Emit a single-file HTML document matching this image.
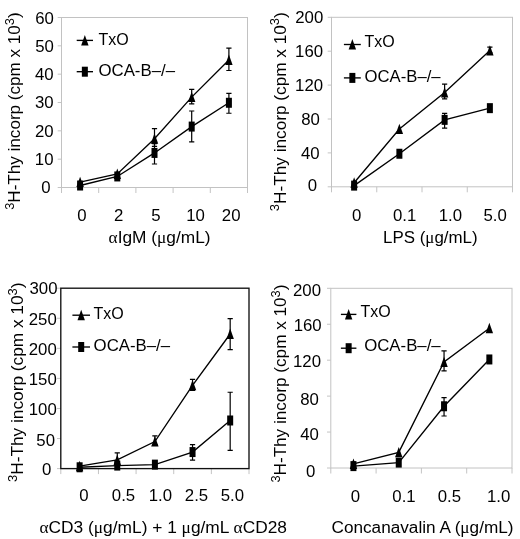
<!DOCTYPE html>
<html><head><meta charset="utf-8"><style>
html,body{margin:0;padding:0;background:#fff;}
svg{display:block;font-family:'Liberation Sans', sans-serif;font-size:16px;will-change:transform;}
</style></head><body>
<svg width="520" height="539" viewBox="0 0 520 539">
<rect width="520" height="539" fill="#fff"/>
<line x1="57.7" y1="187.50" x2="61.5" y2="187.50" stroke="#c4c4c4" stroke-width="1"/>
<line x1="57.7" y1="159.17" x2="61.5" y2="159.17" stroke="#c4c4c4" stroke-width="1"/>
<line x1="57.7" y1="130.83" x2="61.5" y2="130.83" stroke="#c4c4c4" stroke-width="1"/>
<line x1="57.7" y1="102.50" x2="61.5" y2="102.50" stroke="#c4c4c4" stroke-width="1"/>
<line x1="57.7" y1="74.17" x2="61.5" y2="74.17" stroke="#c4c4c4" stroke-width="1"/>
<line x1="57.7" y1="45.83" x2="61.5" y2="45.83" stroke="#c4c4c4" stroke-width="1"/>
<line x1="57.7" y1="17.50" x2="61.5" y2="17.50" stroke="#c4c4c4" stroke-width="1"/>
<text transform="translate(53.80,23.60) scale(1.05,1)" text-anchor="end" >60</text>
<text transform="translate(53.90,52.30) scale(1.05,1)" text-anchor="end" >50</text>
<text transform="translate(53.70,80.30) scale(1.05,1)" text-anchor="end" >40</text>
<text transform="translate(53.60,108.35) scale(1.05,1)" text-anchor="end" >30</text>
<text transform="translate(53.60,136.95) scale(1.05,1)" text-anchor="end" >20</text>
<text transform="translate(53.50,165.05) scale(1.05,1)" text-anchor="end" >10</text>
<text transform="translate(50.70,193.25) scale(1.05,1)" text-anchor="end" >0</text>
<line x1="61.50" y1="187.5" x2="61.50" y2="193.0" stroke="#c4c4c4" stroke-width="1"/>
<line x1="98.70" y1="187.5" x2="98.70" y2="193.0" stroke="#c4c4c4" stroke-width="1"/>
<line x1="135.90" y1="187.5" x2="135.90" y2="193.0" stroke="#c4c4c4" stroke-width="1"/>
<line x1="173.10" y1="187.5" x2="173.10" y2="193.0" stroke="#c4c4c4" stroke-width="1"/>
<line x1="210.30" y1="187.5" x2="210.30" y2="193.0" stroke="#c4c4c4" stroke-width="1"/>
<line x1="247.50" y1="187.5" x2="247.50" y2="193.0" stroke="#c4c4c4" stroke-width="1"/>
<rect x="61.5" y="17.5" width="186.00" height="170.00" fill="none" stroke="#c2c2c2" stroke-width="1"/>
<text transform="translate(81.90,221.20) scale(1.05,1)" text-anchor="middle" >0</text>
<text transform="translate(118.70,221.20) scale(1.05,1)" text-anchor="middle" >2</text>
<text transform="translate(156.00,221.20) scale(1.05,1)" text-anchor="middle" >5</text>
<text transform="translate(195.50,221.20) scale(1.05,1)" text-anchor="middle" >10</text>
<text transform="translate(231.20,221.20) scale(1.05,1)" text-anchor="middle" >20</text>
<text x="108.60" y="242.90" text-anchor="start" textLength="102" lengthAdjust="spacingAndGlyphs"><tspan font-family="Liberation Serif">α</tspan>IgM (<tspan font-family="Liberation Serif">μ</tspan>g/mL)</text>
<text transform="translate(20.2,209.8) rotate(-90)" x="0" y="0" textLength="197.5" lengthAdjust="spacingAndGlyphs"><tspan font-size="12" dy="-6.5">3</tspan><tspan dy="6.5">H-Thy incorp (cpm x 10</tspan><tspan font-size="12" dy="-6.5">3</tspan><tspan dy="6.5">)</tspan></text>
<polyline points="80.10,182.12 117.30,173.90 154.50,138.77 191.70,97.12 228.90,60.00" fill="none" stroke="#000" stroke-width="1.35"/>
<path d="M154.50 146.42V128.57M151.90 146.42h5.2M151.90 128.57h5.2" stroke="#000" stroke-width="1.2" fill="none"/>
<path d="M191.70 103.92V89.47M189.10 103.92h5.2M189.10 89.47h5.2" stroke="#000" stroke-width="1.2" fill="none"/>
<path d="M228.90 70.48V48.10M226.30 70.48h5.2M226.30 48.10h5.2" stroke="#000" stroke-width="1.2" fill="none"/>
<path d="M80.10 176.72L83.80 187.12H76.40Z" fill="#000"/>
<path d="M117.30 168.50L121.00 178.90H113.60Z" fill="#000"/>
<path d="M154.50 133.37L158.20 143.77H150.80Z" fill="#000"/>
<path d="M191.70 91.72L195.40 102.12H188.00Z" fill="#000"/>
<path d="M228.90 54.60L232.60 65.00H225.20Z" fill="#000"/>
<polyline points="80.10,185.52 117.30,176.45 154.50,152.93 191.70,126.58 228.90,102.78" fill="none" stroke="#000" stroke-width="1.35"/>
<path d="M154.50 163.98V143.58M151.90 163.98h5.2M151.90 143.58h5.2" stroke="#000" stroke-width="1.2" fill="none"/>
<path d="M191.70 141.88V111.00M189.10 141.88h5.2M189.10 111.00h5.2" stroke="#000" stroke-width="1.2" fill="none"/>
<path d="M228.90 113.27V93.43M226.30 113.27h5.2M226.30 93.43h5.2" stroke="#000" stroke-width="1.2" fill="none"/>
<rect x="77.10" y="180.52" width="6.0" height="10.0" fill="#000"/>
<rect x="114.30" y="171.45" width="6.0" height="10.0" fill="#000"/>
<rect x="151.50" y="147.93" width="6.0" height="10.0" fill="#000"/>
<rect x="188.70" y="121.58" width="6.0" height="10.0" fill="#000"/>
<rect x="225.90" y="97.78" width="6.0" height="10.0" fill="#000"/>
<line x1="76.7" y1="40.4" x2="93" y2="40.4" stroke="#000" stroke-width="1.35"/>
<path d="M84.85 35.00L88.55 45.40H81.15Z" fill="#000"/>
<text x="98.50" y="44.60" text-anchor="start" >TxO</text>
<line x1="76.7" y1="71.7" x2="93" y2="71.7" stroke="#000" stroke-width="1.35"/>
<rect x="81.85" y="66.70" width="6.0" height="10.0" fill="#000"/>
<text x="98.50" y="76.00" text-anchor="start" textLength="76.5" lengthAdjust="spacingAndGlyphs">OCA-B–/–</text>
<line x1="327.7" y1="186.80" x2="331.5" y2="186.80" stroke="#c4c4c4" stroke-width="1"/>
<line x1="327.7" y1="152.90" x2="331.5" y2="152.90" stroke="#c4c4c4" stroke-width="1"/>
<line x1="327.7" y1="119.00" x2="331.5" y2="119.00" stroke="#c4c4c4" stroke-width="1"/>
<line x1="327.7" y1="85.10" x2="331.5" y2="85.10" stroke="#c4c4c4" stroke-width="1"/>
<line x1="327.7" y1="51.20" x2="331.5" y2="51.20" stroke="#c4c4c4" stroke-width="1"/>
<line x1="327.7" y1="17.30" x2="331.5" y2="17.30" stroke="#c4c4c4" stroke-width="1"/>
<text transform="translate(323.30,23.35) scale(1.05,1)" text-anchor="end" >200</text>
<text transform="translate(323.10,57.05) scale(1.05,1)" text-anchor="end" >160</text>
<text transform="translate(323.10,91.05) scale(1.05,1)" text-anchor="end" >120</text>
<text transform="translate(319.80,124.90) scale(1.05,1)" text-anchor="end" >80</text>
<text transform="translate(319.70,159.15) scale(1.05,1)" text-anchor="end" >40</text>
<text transform="translate(317.00,191.15) scale(1.05,1)" text-anchor="end" >0</text>
<line x1="331.50" y1="186.8" x2="331.50" y2="192.3" stroke="#c4c4c4" stroke-width="1"/>
<line x1="376.75" y1="186.8" x2="376.75" y2="192.3" stroke="#c4c4c4" stroke-width="1"/>
<line x1="422.00" y1="186.8" x2="422.00" y2="192.3" stroke="#c4c4c4" stroke-width="1"/>
<line x1="467.25" y1="186.8" x2="467.25" y2="192.3" stroke="#c4c4c4" stroke-width="1"/>
<line x1="512.50" y1="186.8" x2="512.50" y2="192.3" stroke="#c4c4c4" stroke-width="1"/>
<rect x="331.5" y="17.3" width="181.00" height="169.50" fill="none" stroke="#c2c2c2" stroke-width="1"/>
<text transform="translate(356.60,220.90) scale(1.05,1)" text-anchor="middle" >0</text>
<text transform="translate(404.60,220.90) scale(1.05,1)" text-anchor="middle" >0.1</text>
<text transform="translate(450.30,220.90) scale(1.05,1)" text-anchor="middle" >1.0</text>
<text transform="translate(495.20,220.90) scale(1.05,1)" text-anchor="middle" >5.0</text>
<text x="383.10" y="242.90" text-anchor="start" textLength="94.5" lengthAdjust="spacingAndGlyphs">LPS (<tspan font-family="Liberation Serif">μ</tspan>g/mL)</text>
<text transform="translate(285.8,211.2) rotate(-90)" x="0" y="0" textLength="199" lengthAdjust="spacingAndGlyphs"><tspan font-size="12" dy="-6.5">3</tspan><tspan dy="6.5">H-Thy incorp (cpm x 10</tspan><tspan font-size="12" dy="-6.5">3</tspan><tspan dy="6.5">)</tspan></text>
<polyline points="354.12,182.73 399.38,129.09 444.62,92.56 489.88,50.61" fill="none" stroke="#000" stroke-width="1.35"/>
<path d="M444.62 98.91V84.08M442.02 98.91h5.2M442.02 84.08h5.2" stroke="#000" stroke-width="1.2" fill="none"/>
<path d="M489.88 52.90V47.13M487.27 52.90h5.2M487.27 47.13h5.2" stroke="#000" stroke-width="1.2" fill="none"/>
<path d="M354.12 177.33L357.82 187.73H350.43Z" fill="#000"/>
<path d="M399.38 123.69L403.07 134.09H395.68Z" fill="#000"/>
<path d="M444.62 87.16L448.32 97.56H440.93Z" fill="#000"/>
<path d="M489.88 45.21L493.57 55.61H486.18Z" fill="#000"/>
<polyline points="354.12,185.61 399.38,153.75 444.62,119.85 489.88,108.15" fill="none" stroke="#000" stroke-width="1.35"/>
<path d="M444.62 128.07V113.32M442.02 128.07h5.2M442.02 113.32h5.2" stroke="#000" stroke-width="1.2" fill="none"/>
<rect x="351.12" y="180.61" width="6.0" height="10.0" fill="#000"/>
<rect x="396.38" y="148.75" width="6.0" height="10.0" fill="#000"/>
<rect x="441.62" y="114.85" width="6.0" height="10.0" fill="#000"/>
<rect x="486.88" y="103.15" width="6.0" height="10.0" fill="#000"/>
<line x1="343.9" y1="44.5" x2="360.8" y2="44.5" stroke="#000" stroke-width="1.35"/>
<path d="M352.35 39.10L356.05 49.50H348.65Z" fill="#000"/>
<text x="364.60" y="47.40" text-anchor="start" >TxO</text>
<line x1="343.9" y1="77.9" x2="360.8" y2="77.9" stroke="#000" stroke-width="1.35"/>
<rect x="349.35" y="72.90" width="6.0" height="10.0" fill="#000"/>
<text x="364.60" y="82.10" text-anchor="start" textLength="76" lengthAdjust="spacingAndGlyphs">OCA-B–/–</text>
<line x1="57.0" y1="468.60" x2="60.8" y2="468.60" stroke="#c4c4c4" stroke-width="1"/>
<line x1="57.0" y1="438.53" x2="60.8" y2="438.53" stroke="#c4c4c4" stroke-width="1"/>
<line x1="57.0" y1="408.47" x2="60.8" y2="408.47" stroke="#c4c4c4" stroke-width="1"/>
<line x1="57.0" y1="378.40" x2="60.8" y2="378.40" stroke="#c4c4c4" stroke-width="1"/>
<line x1="57.0" y1="348.33" x2="60.8" y2="348.33" stroke="#c4c4c4" stroke-width="1"/>
<line x1="57.0" y1="318.27" x2="60.8" y2="318.27" stroke="#c4c4c4" stroke-width="1"/>
<line x1="57.0" y1="288.20" x2="60.8" y2="288.20" stroke="#c4c4c4" stroke-width="1"/>
<text transform="translate(57.50,294.40) scale(1.05,1)" text-anchor="end" >300</text>
<text transform="translate(56.80,325.30) scale(1.05,1)" text-anchor="end" >250</text>
<text transform="translate(56.80,354.85) scale(1.05,1)" text-anchor="end" >200</text>
<text transform="translate(56.80,384.55) scale(1.05,1)" text-anchor="end" >150</text>
<text transform="translate(56.80,415.45) scale(1.05,1)" text-anchor="end" >100</text>
<text transform="translate(55.00,445.55) scale(1.05,1)" text-anchor="end" >50</text>
<text transform="translate(51.30,475.20) scale(1.05,1)" text-anchor="end" >0</text>
<line x1="60.80" y1="468.6" x2="60.80" y2="474.1" stroke="#c4c4c4" stroke-width="1"/>
<line x1="98.44" y1="468.6" x2="98.44" y2="474.1" stroke="#c4c4c4" stroke-width="1"/>
<line x1="136.08" y1="468.6" x2="136.08" y2="474.1" stroke="#c4c4c4" stroke-width="1"/>
<line x1="173.72" y1="468.6" x2="173.72" y2="474.1" stroke="#c4c4c4" stroke-width="1"/>
<line x1="211.36" y1="468.6" x2="211.36" y2="474.1" stroke="#c4c4c4" stroke-width="1"/>
<line x1="249.00" y1="468.6" x2="249.00" y2="474.1" stroke="#c4c4c4" stroke-width="1"/>
<rect x="60.8" y="288.2" width="188.20" height="180.40" fill="none" stroke="#111" stroke-width="1.35"/>
<text transform="translate(83.80,501.00) scale(1.05,1)" text-anchor="middle" >0</text>
<text transform="translate(123.50,501.00) scale(1.05,1)" text-anchor="middle" >0.5</text>
<text transform="translate(160.40,501.00) scale(1.05,1)" text-anchor="middle" >1.0</text>
<text transform="translate(196.50,501.00) scale(1.05,1)" text-anchor="middle" >2.5</text>
<text transform="translate(232.30,501.00) scale(1.05,1)" text-anchor="middle" >5.0</text>
<text x="39.50" y="532.70" text-anchor="start" textLength="247.5" lengthAdjust="spacingAndGlyphs"><tspan font-family="Liberation Serif">α</tspan>CD3 (<tspan font-family="Liberation Serif">μ</tspan>g/mL) + 1 <tspan font-family="Liberation Serif">μ</tspan>g/mL <tspan font-family="Liberation Serif">α</tspan>CD28</text>
<text transform="translate(23.2,482) rotate(-90)" x="0" y="0" textLength="199.5" lengthAdjust="spacingAndGlyphs"><tspan font-size="12" dy="-6.5">3</tspan><tspan dy="6.5">H-Thy incorp (cpm x 10</tspan><tspan font-size="12" dy="-6.5">3</tspan><tspan dy="6.5">)</tspan></text>
<polyline points="79.62,466.19 117.26,459.88 154.90,441.54 192.54,385.32 230.18,334.02" fill="none" stroke="#000" stroke-width="1.35"/>
<path d="M117.26 463.79V452.85M114.66 463.79h5.2M114.66 452.85h5.2" stroke="#000" stroke-width="1.2" fill="none"/>
<path d="M154.90 444.55V435.83M152.30 444.55h5.2M152.30 435.83h5.2" stroke="#000" stroke-width="1.2" fill="none"/>
<path d="M192.54 390.43V379.30M189.94 390.43h5.2M189.94 379.30h5.2" stroke="#000" stroke-width="1.2" fill="none"/>
<path d="M230.18 349.66V318.57M227.58 349.66h5.2M227.58 318.57h5.2" stroke="#000" stroke-width="1.2" fill="none"/>
<path d="M79.62 460.79L83.32 471.19H75.92Z" fill="#000"/>
<path d="M117.26 454.48L120.96 464.88H113.56Z" fill="#000"/>
<path d="M154.90 436.14L158.60 446.54H151.20Z" fill="#000"/>
<path d="M192.54 379.92L196.24 390.32H188.84Z" fill="#000"/>
<path d="M230.18 328.62L233.88 339.02H226.48Z" fill="#000"/>
<polyline points="79.62,467.28 117.26,465.59 154.90,464.63 192.54,452.06 230.18,420.49" fill="none" stroke="#000" stroke-width="1.35"/>
<path d="M192.54 460.06V444.55M189.94 460.06h5.2M189.94 444.55h5.2" stroke="#000" stroke-width="1.2" fill="none"/>
<path d="M230.18 450.44V392.23M227.58 450.44h5.2M227.58 392.23h5.2" stroke="#000" stroke-width="1.2" fill="none"/>
<rect x="76.62" y="462.28" width="6.0" height="10.0" fill="#000"/>
<rect x="114.26" y="460.59" width="6.0" height="10.0" fill="#000"/>
<rect x="151.90" y="459.63" width="6.0" height="10.0" fill="#000"/>
<rect x="189.54" y="447.06" width="6.0" height="10.0" fill="#000"/>
<rect x="227.18" y="415.49" width="6.0" height="10.0" fill="#000"/>
<line x1="72.4" y1="315.2" x2="90" y2="315.2" stroke="#000" stroke-width="1.35"/>
<path d="M81.20 309.80L84.90 320.20H77.50Z" fill="#000"/>
<text x="93.60" y="319.00" text-anchor="start" >TxO</text>
<line x1="72.4" y1="347" x2="90" y2="347" stroke="#000" stroke-width="1.35"/>
<rect x="78.20" y="342.00" width="6.0" height="10.0" fill="#000"/>
<text x="93.60" y="351.40" text-anchor="start" textLength="76.5" lengthAdjust="spacingAndGlyphs">OCA-B–/–</text>
<line x1="327.0" y1="468.00" x2="330.8" y2="468.00" stroke="#c4c4c4" stroke-width="1"/>
<line x1="327.0" y1="432.06" x2="330.8" y2="432.06" stroke="#c4c4c4" stroke-width="1"/>
<line x1="327.0" y1="396.12" x2="330.8" y2="396.12" stroke="#c4c4c4" stroke-width="1"/>
<line x1="327.0" y1="360.18" x2="330.8" y2="360.18" stroke="#c4c4c4" stroke-width="1"/>
<line x1="327.0" y1="324.24" x2="330.8" y2="324.24" stroke="#c4c4c4" stroke-width="1"/>
<line x1="327.0" y1="288.30" x2="330.8" y2="288.30" stroke="#c4c4c4" stroke-width="1"/>
<text transform="translate(321.00,295.55) scale(1.05,1)" text-anchor="end" >200</text>
<text transform="translate(321.70,331.45) scale(1.05,1)" text-anchor="end" >160</text>
<text transform="translate(321.00,366.85) scale(1.05,1)" text-anchor="end" >120</text>
<text transform="translate(318.80,405.35) scale(1.05,1)" text-anchor="end" >80</text>
<text transform="translate(318.80,440.45) scale(1.05,1)" text-anchor="end" >40</text>
<text transform="translate(315.30,476.75) scale(1.05,1)" text-anchor="end" >0</text>
<line x1="330.80" y1="468" x2="330.80" y2="473.5" stroke="#c4c4c4" stroke-width="1"/>
<line x1="376.10" y1="468" x2="376.10" y2="473.5" stroke="#c4c4c4" stroke-width="1"/>
<line x1="421.40" y1="468" x2="421.40" y2="473.5" stroke="#c4c4c4" stroke-width="1"/>
<line x1="466.70" y1="468" x2="466.70" y2="473.5" stroke="#c4c4c4" stroke-width="1"/>
<line x1="512.00" y1="468" x2="512.00" y2="473.5" stroke="#c4c4c4" stroke-width="1"/>
<rect x="330.8" y="288.3" width="181.20" height="179.70" fill="none" stroke="#c2c2c2" stroke-width="1"/>
<text transform="translate(355.40,501.70) scale(1.05,1)" text-anchor="middle" >0</text>
<text transform="translate(404.00,501.70) scale(1.05,1)" text-anchor="middle" >0.1</text>
<text transform="translate(449.40,501.70) scale(1.05,1)" text-anchor="middle" >0.5</text>
<text transform="translate(498.70,501.70) scale(1.05,1)" text-anchor="middle" >1.0</text>
<text x="331.50" y="532.90" text-anchor="start" textLength="182" lengthAdjust="spacingAndGlyphs">Concanavalin A (<tspan font-family="Liberation Serif">μ</tspan>g/mL)</text>
<text transform="translate(286.4,482.6) rotate(-90)" x="0" y="0" textLength="198" lengthAdjust="spacingAndGlyphs"><tspan font-size="12" dy="-6.5">3</tspan><tspan dy="6.5">H-Thy incorp (cpm x 10</tspan><tspan font-size="12" dy="-6.5">3</tspan><tspan dy="6.5">)</tspan></text>
<polyline points="353.45,463.96 398.75,452.37 444.05,362.07 489.35,328.19" fill="none" stroke="#000" stroke-width="1.35"/>
<path d="M444.05 370.87V350.93M441.45 370.87h5.2M441.45 350.93h5.2" stroke="#000" stroke-width="1.2" fill="none"/>
<path d="M353.45 458.56L357.15 468.96H349.75Z" fill="#000"/>
<path d="M398.75 446.97L402.45 457.37H395.05Z" fill="#000"/>
<path d="M444.05 356.67L447.75 367.07H440.35Z" fill="#000"/>
<path d="M489.35 322.79L493.05 333.19H485.65Z" fill="#000"/>
<polyline points="353.45,466.11 398.75,462.61 444.05,406.27 489.35,359.46" fill="none" stroke="#000" stroke-width="1.35"/>
<path d="M444.05 415.98V397.56M441.45 415.98h5.2M441.45 397.56h5.2" stroke="#000" stroke-width="1.2" fill="none"/>
<rect x="350.45" y="461.11" width="6.0" height="10.0" fill="#000"/>
<rect x="395.75" y="457.61" width="6.0" height="10.0" fill="#000"/>
<rect x="441.05" y="401.27" width="6.0" height="10.0" fill="#000"/>
<rect x="486.35" y="354.46" width="6.0" height="10.0" fill="#000"/>
<line x1="340.9" y1="314.4" x2="356.4" y2="314.4" stroke="#000" stroke-width="1.35"/>
<path d="M348.65 309.00L352.35 319.40H344.95Z" fill="#000"/>
<text x="360.40" y="316.90" text-anchor="start" >TxO</text>
<line x1="340.9" y1="348.2" x2="356.4" y2="348.2" stroke="#000" stroke-width="1.35"/>
<rect x="345.65" y="343.20" width="6.0" height="10.0" fill="#000"/>
<text x="364.20" y="351.40" text-anchor="start" textLength="76.5" lengthAdjust="spacingAndGlyphs">OCA-B–/–</text>
</svg></body></html>
